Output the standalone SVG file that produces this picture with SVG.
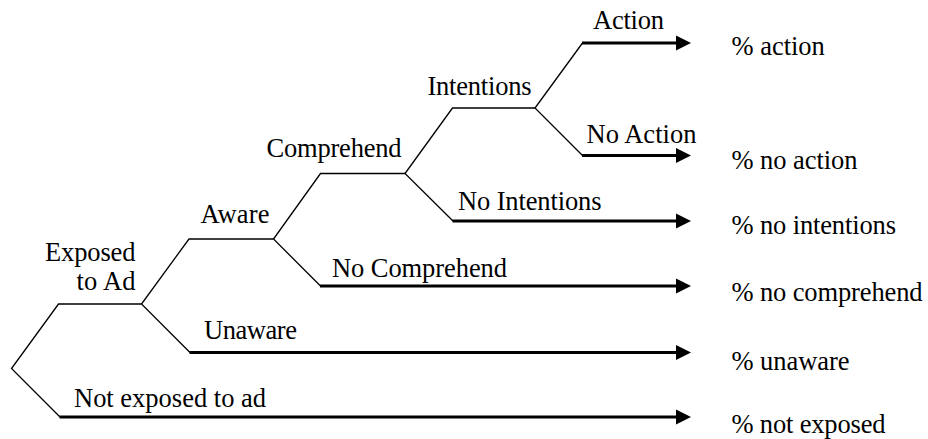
<svg xmlns="http://www.w3.org/2000/svg" width="928" height="439" viewBox="0 0 928 439">
<style>
  .thin { fill: none; stroke: #000; stroke-width: 1.3; stroke-linejoin: miter; }
  .thick { fill: none; stroke: #000; stroke-width: 3; marker-end: url(#ah); }
  text { font-family: "Liberation Serif", "Times New Roman", Times, "DejaVu Serif", serif; font-size: 26.5px; fill: #000; }
</style>
<defs>
  <marker id="ah" markerUnits="userSpaceOnUse" markerWidth="16" markerHeight="16" refX="0" refY="8" orient="auto" viewBox="0 0 16 16">
    <polygon points="0,0.5 15,8 0,15.5" fill="#000"/>
  </marker>
</defs>
<rect width="928" height="439" fill="#fff"/>
<g id="connectors">
  <polyline class="thin" points="141.5,304 58.5,304 11.5,368.5 60,417"/>
  <polyline class="thin" points="190,352.5 141.5,304 189,239 273.5,239"/>
  <polyline class="thin" points="320.5,286 273.5,239 320.5,173.5 405,173.5"/>
  <polyline class="thin" points="453,221 405,173.5 452.5,108 535,108"/>
  <polyline class="thin" points="582.5,155.5 535,108 582.5,43"/>
  <line class="thick" x1="582" y1="43" x2="676" y2="43"/>
  <line class="thick" x1="582" y1="155.5" x2="676" y2="155.5"/>
  <line class="thick" x1="452.5" y1="221" x2="676" y2="221"/>
  <line class="thick" x1="320" y1="286" x2="676" y2="286"/>
  <line class="thick" x1="189.5" y1="352.5" x2="676" y2="352.5"/>
  <line class="thick" x1="59.5" y1="417" x2="676" y2="417"/>
</g>
<g id="exposed"><text x="45" y="260.5" textLength="90.5" lengthAdjust="spacing">Exposed</text><text x="76.5" y="290" textLength="59" lengthAdjust="spacing">to Ad</text></g>
<g id="not-exposed"><text x="74" y="406.5" textLength="192" lengthAdjust="spacing">Not exposed to ad</text></g>
<g id="aware"><text x="200.5" y="223" textLength="69" lengthAdjust="spacing">Aware</text></g>
<g id="unaware"><text x="204" y="339" textLength="93" lengthAdjust="spacing">Unaware</text></g>
<g id="comprehend"><text x="266.5" y="157" textLength="135" lengthAdjust="spacing">Comprehend</text></g>
<g id="no-comprehend"><text x="332" y="276.5" textLength="175" lengthAdjust="spacing">No Comprehend</text></g>
<g id="intentions"><text x="427.5" y="95" textLength="104" lengthAdjust="spacing">Intentions</text></g>
<g id="no-intentions"><text x="458" y="210" textLength="143.5" lengthAdjust="spacing">No Intentions</text></g>
<g id="action"><text x="593" y="28.5" textLength="71" lengthAdjust="spacing">Action</text></g>
<g id="no-action"><text x="586.5" y="143" textLength="110" lengthAdjust="spacing">No Action</text></g>
<g id="out-action"><text x="731.5" y="54.5" textLength="93.3" lengthAdjust="spacing">% action</text></g>
<g id="out-no-action"><text x="731.5" y="168.5" textLength="126" lengthAdjust="spacing">% no action</text></g>
<g id="out-no-intentions"><text x="731.5" y="234" textLength="164.5" lengthAdjust="spacing">% no intentions</text></g>
<g id="out-no-comprehend"><text x="731.5" y="301" textLength="191" lengthAdjust="spacing">% no comprehend</text></g>
<g id="out-unaware"><text x="731.5" y="370" textLength="118" lengthAdjust="spacing">% unaware</text></g>
<g id="out-not-exposed"><text x="731.5" y="433" textLength="154" lengthAdjust="spacing">% not exposed</text></g>
</svg>
